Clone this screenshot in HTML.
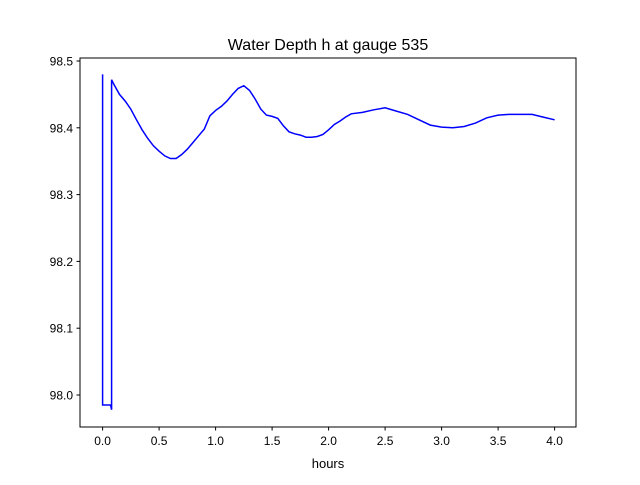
<!DOCTYPE html>
<html><head><meta charset="utf-8">
<style>
body{margin:0;background:#fff;}
svg text{font-family:"Liberation Sans","DejaVu Sans",sans-serif;}
</style></head>
<body>
<svg id="chart" width="640" height="480" xmlns="http://www.w3.org/2000/svg">
<rect width="640" height="480" fill="#fff"/>
<text x="328" y="50" font-size="16" text-anchor="middle">Water Depth h at gauge 535</text>
<g id="ticks"></g>
<path id="line" fill="none" stroke="#0000ff" stroke-width="1.5"/>
<rect x="80" y="58" width="496" height="369" fill="none" stroke="#000" stroke-width="1"/>
<text x="328" y="468" font-size="13" text-anchor="middle">hours</text>
</svg>
<script>
const xs=[0,0,0.07,0.08,0.08,0.1,0.15,0.2,0.25,0.3,0.35,0.4,0.45,0.5,0.55,0.6,0.65,0.7,0.75,0.8,0.85,0.9,0.95,1.0,1.05,1.1,1.15,1.2,1.25,1.3,1.35,1.4,1.45,1.5,1.55,1.6,1.65,1.7,1.75,1.8,1.85,1.9,1.95,2.0,2.05,2.1,2.15,2.2,2.3,2.4,2.5,2.6,2.7,2.8,2.9,3.0,3.1,3.2,3.3,3.4,3.5,3.6,3.8,3.9,4.0];
const ys=[98.48,97.985,97.985,97.978,98.472,98.465,98.45,98.44,98.428,98.412,98.397,98.384,98.373,98.365,98.358,98.354,98.354,98.36,98.368,98.378,98.388,98.398,98.418,98.426,98.432,98.44,98.45,98.459,98.463,98.456,98.443,98.428,98.419,98.417,98.414,98.403,98.394,98.391,98.389,98.386,98.386,98.387,98.39,98.397,98.405,98.41,98.416,98.421,98.423,98.427,98.43,98.425,98.42,98.412,98.404,98.401,98.4,98.402,98.407,98.415,98.419,98.42,98.42,98.416,98.412];
const xTicks=[0,0.5,1,1.5,2,2.5,3,3.5,4];
const yTicks=[98.0,98.1,98.2,98.3,98.4,98.5];
const X=v=>102.6+v*113;
const Y=v=>61+(98.5-v)*668;
const ns="http://www.w3.org/2000/svg";
const g=document.getElementById('ticks');
function mk(t,a){const e=document.createElementNS(ns,t);for(const k in a)e.setAttribute(k,a[k]);g.appendChild(e);return e;}
xTicks.forEach(v=>{
 const l=mk('line',{x1:X(v),x2:X(v),y1:427,y2:430.5,stroke:'#000'});
 
 
 const t=mk('text',{x:X(v),y:445,'font-size':12,'text-anchor':'middle'});
 t.textContent=v.toFixed(1);
 
 
});
yTicks.forEach(v=>{
 const l=mk('line',{x1:76.5,x2:80,y1:Y(v),y2:Y(v),stroke:'#000'});
 
 
 const t=mk('text',{x:73,y:Y(v)+4.5,'font-size':12,'text-anchor':'end'});
 t.textContent=v.toFixed(1);
 
 
});
document.getElementById('line').setAttribute('d',xs.map((v,i)=>(i?'L':'M')+X(v).toFixed(1)+' '+Y(ys[i]).toFixed(1)).join(' '));
</script>
</body></html>
